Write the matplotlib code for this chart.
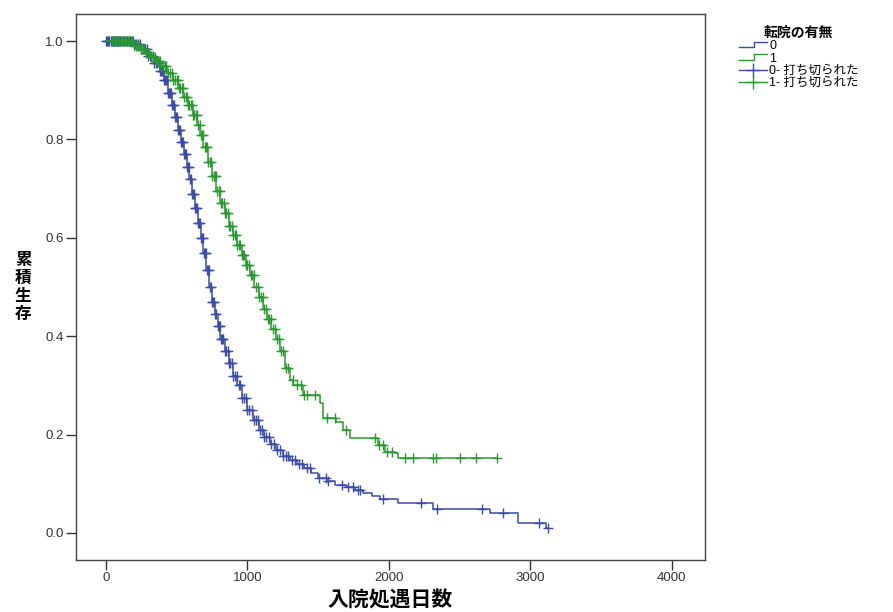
import numpy as np
import matplotlib
matplotlib.use("Agg")
import matplotlib.pyplot as plt
from matplotlib.lines import Line2D
from matplotlib.legend_handler import HandlerBase

plt.rcParams['font.family'] = ['Liberation Sans', 'Noto Sans CJK JP', 'DejaVu Sans']

# group 0 (no transfer) - event times and survival after each step
t0 = [0, 200, 250, 300, 340, 380, 410, 440, 465, 490, 510, 530, 550, 570, 590,
      610, 630, 650, 670, 690, 710, 730, 750, 770, 790, 810, 840, 870, 900, 930,
      960, 1000, 1040, 1080, 1120, 1160, 1200, 1250, 1300, 1350, 1400, 1450,
      1500, 1560, 1620, 1700, 1760, 1820, 1880, 1940, 2066, 2313, 2714, 2914, 3114]
s0 = [1.0, 0.995, 0.985, 0.97, 0.955, 0.94, 0.92, 0.895, 0.87, 0.845, 0.82,
      0.795, 0.77, 0.745, 0.72, 0.69, 0.66, 0.63, 0.60, 0.57, 0.535, 0.50, 0.47,
      0.445, 0.42, 0.395, 0.37, 0.345, 0.32, 0.30, 0.275, 0.25, 0.23, 0.21,
      0.195, 0.18, 0.168, 0.157, 0.148, 0.14, 0.132, 0.122, 0.112, 0.105, 0.098,
      0.093, 0.088, 0.082, 0.076, 0.0685, 0.060, 0.049, 0.041, 0.020, 0.0095]
# censored cases, group 0
c0 = [3, 10, 18, 25, 33, 40, 48, 55, 63, 70, 78, 85, 93, 100, 110, 120, 130,
      140, 150, 160, 170, 180, 190, 205, 215, 225, 238, 250, 262, 275, 288, 300,
      312, 322, 332, 342, 352, 362, 372, 382, 392, 400, 407, 414, 421, 428, 435,
      442, 449, 456, 463, 470, 477, 484, 491, 498, 505, 512, 519, 526, 533, 540,
      547, 554, 561, 568, 575, 582, 589, 596, 603, 610, 617, 624, 631, 638, 645,
      652, 659, 666, 673, 680, 687, 694, 701, 708, 715, 722, 729, 736, 743, 750,
      758, 766, 774, 782, 790, 798, 806, 814, 822, 830, 840, 850, 860, 870, 880,
      890, 900, 912, 925, 938, 950, 963, 975, 988, 1000, 1015, 1030, 1045, 1060,
      1075, 1090, 1105, 1120, 1135, 1150, 1170, 1190, 1210, 1230, 1250, 1270,
      1290, 1315, 1340, 1365, 1390, 1420, 1442, 1506, 1554, 1570, 1667, 1715,
      1747, 1780, 1796, 1957, 2230, 2340, 2660, 2805, 3065, 3125]

# group 1 (transferred)
t1 = [0, 190, 240, 280, 311, 350, 382, 430, 476, 510, 546, 580, 617, 645, 664,
      690, 723, 750, 782, 810, 840, 870, 900, 930, 960, 990, 1020, 1050, 1080,
      1110, 1140, 1170, 1200, 1230, 1265, 1300, 1324, 1394, 1512, 1536, 1630,
      1677, 1724, 1925, 1972, 2042, 2066]
s1 = [1.0, 0.99, 0.985, 0.975, 0.968, 0.96, 0.95, 0.935, 0.92, 0.905, 0.887,
      0.87, 0.85, 0.83, 0.81, 0.785, 0.755, 0.725, 0.695, 0.67, 0.65, 0.625,
      0.605, 0.585, 0.565, 0.545, 0.525, 0.50, 0.48, 0.455, 0.435, 0.415, 0.395,
      0.37, 0.335, 0.31, 0.30, 0.28, 0.264, 0.233, 0.226, 0.209, 0.194, 0.179,
      0.165, 0.162, 0.152]
# censored cases, group 1
c1 = [45, 55, 65, 75, 85, 95, 105, 115, 125, 135, 145, 155, 165, 175, 185, 200,
      212, 224, 236, 248, 260, 272, 284, 296, 308, 320, 332, 344, 356, 368, 380,
      392, 404, 416, 428, 440, 452, 464, 476, 488, 500, 509, 518, 527, 536, 545,
      554, 563, 572, 581, 590, 599, 608, 617, 626, 635, 644, 653, 662, 671, 680,
      689, 698, 707, 716, 725, 734, 743, 752, 761, 770, 779, 788, 797, 806, 815,
      824, 833, 842, 851, 860, 870, 880, 890, 900, 910, 920, 930, 940, 950, 960,
      970, 980, 990, 1000, 1012, 1024, 1036, 1048, 1060, 1072, 1084, 1096, 1108,
      1120, 1132, 1144, 1156, 1168, 1180, 1195, 1210, 1225, 1240, 1255, 1270,
      1290, 1320, 1350, 1380, 1400, 1420, 1480, 1560, 1620, 1700, 1900, 1930,
      1960, 1990, 2020, 2113, 2172, 2313, 2332, 2502, 2620, 2768]

groups = ['0', '1']
colors = ['#3b4cab', '#2a9a30']


class StepHandler(HandlerBase):
    # legend glyph shaped like a small step
    def create_artists(self, legend, orig, xd, yd, width, height, fontsize, trans):
        x = [xd, xd + width * 0.55, xd + width * 0.55, xd + width]
        y = [yd + height * 0.2, yd + height * 0.2, yd + height * 0.85, yd + height * 0.85]
        ln = Line2D(x, y, color=orig.get_color(), lw=1.0, transform=trans)
        return [ln]


def km_line(ax, t, s, c, color):
    t = np.array(t, dtype=float)
    s = np.array(s, dtype=float)
    c = np.array(c, dtype=float)
    tt = np.append(t, c.max())
    ss = np.append(s, s[-1])
    ax.step(tt, ss, where='post', color=color, lw=1.1)
    idx = np.searchsorted(t, c, side='right') - 1
    ax.plot(c, s[idx], ls='none', marker='+', ms=7.5, mew=1.0, color=color)


fig = plt.figure(figsize=(8.93, 6.12), dpi=100)
ax = fig.add_axes([0.085, 0.085, 0.704, 0.892])

km_line(ax, t0, s0, c0, colors[0])
km_line(ax, t1, s1, c1, colors[1])

ax.set_xlim(-212, 4233)
ax.set_ylim(-0.055, 1.055)
ax.set_xticks([0, 1000, 2000, 3000, 4000])
ax.set_yticks([0.0, 0.2, 0.4, 0.6, 0.8, 1.0])
ax.set_yticklabels(['0.0', '0.2', '0.4', '0.6', '0.8', '1.0'])
ax.tick_params(direction='out', length=7, width=1.0, labelsize=9.5,
               colors='#333333', pad=2)
for sp in ax.spines.values():
    sp.set_color('#444444')
    sp.set_linewidth(1.0)

fig.text(0.437, 0.019, '入院処遇日数', fontsize=15, fontweight='bold',
         ha='center', va='center', family=['Noto Sans CJK JP'])
fig.text(0.026, 0.531, '累\n積\n生\n存', fontsize=12, fontweight='bold',
         ha='center', va='center', linespacing=1.0, family=['Noto Sans CJK JP'])

handles = [
    Line2D([], [], color=colors[0]),
    Line2D([], [], color=colors[1]),
    Line2D([], [], color=colors[0], marker='+', ms=10, mew=1.0, lw=1.0),
    Line2D([], [], color=colors[1], marker='+', ms=10, mew=1.0, lw=1.0),
]
labels = ['0', '1', '0- 打ち切られた', '1- 打ち切られた']
leg = fig.legend(handles, labels, title='転院の有無', loc='upper left',
                 bbox_to_anchor=(0.822, 0.966), frameon=False, fontsize=9,
                 handlelength=2.2, handletextpad=0.2, labelspacing=0.03,
                 borderaxespad=0,
                 handler_map={handles[0]: StepHandler(), handles[1]: StepHandler()})
leg.get_title().set_fontsize(10)
leg.get_title().set_fontweight('bold')

fig.savefig('out.png', dpi=100)
